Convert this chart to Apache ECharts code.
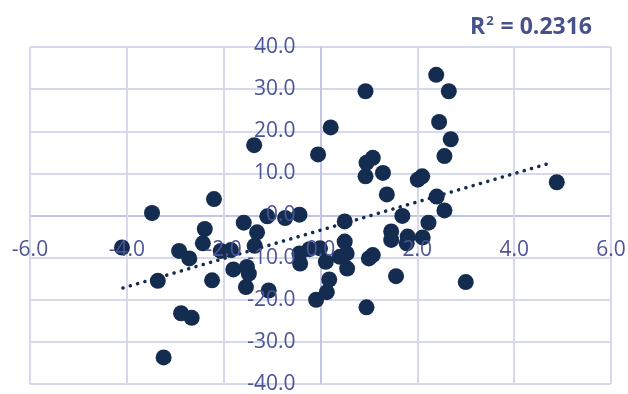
<!DOCTYPE html>
<html>
<head>
<meta charset="utf-8">
<script src="https://cdn.jsdelivr.net/npm/echarts@6/dist/echarts.min.js"></script>
<style>html,body{margin:0;padding:0;background:#fff}#c{width:628px;height:394px}</style>
</head>
<body>
<div id="c"></div>
<script>
// Scatter data (x, y)
const xValues = [-4.10,-3.48,-3.36,-3.24,-2.92,-2.88,-2.66,-2.71,-2.43,-2.39,-2.24,-2.20,-2.06,-1.85,-1.80,-1.585,-1.54,-1.52,-1.48,-1.37,-1.36,-1.31,-1.10,-1.07,-0.73,-0.435,-0.435,-0.42,-0.23,-0.09,-0.05,-0.01,0.11,0.13,0.18,0.21,0.40,0.50,0.50,0.54,0.55,0.93,0.93,0.95,0.95,1.00,1.08,1.08,1.29,1.37,1.46,1.46,1.56,1.69,1.80,1.78,2.01,2.10,2.11,2.23,2.39,2.40,2.45,2.56,2.56,2.65,2.69,3.00,4.88];
const yValues = [-7.6,0.6,-15.5,-33.7,-8.4,-23.2,-24.3,-10.2,-6.6,-3.2,-15.4,3.9,-8.4,-8.2,-12.8,-1.7,-17.0,-12.2,-13.8,16.7,-7.2,-4.0,-0.2,-17.8,-0.6,0.2,-9.0,-11.4,-8.0,-20.0,14.5,-7.8,-11.0,-18.2,-15.2,20.9,-9.8,-1.4,-6.2,-9.0,-12.6,29.5,9.3,12.5,-21.8,-10.2,-9.4,13.7,10.1,5.0,-3.8,-5.8,-14.4,-0.1,-5.0,-6.6,8.5,9.3,-5.2,-1.7,33.4,4.5,22.2,1.2,14.1,29.5,18.1,-15.8,7.9];
// Linear trendline end points
const trendX = [-4.08, 4.73];
const trendY = [-17.2, 12.4];
const xTicks = {min: -6, max: 6, interval: 2};
const yTicks = {min: -40, max: 40, interval: 10};
const rSquared = '0.2316';

const points = xValues.map((x, i) => [x, yValues[i]]);
const trend = trendX.map((x, i) => [x, trendY[i]]);

const W = 628, H = 394;
const grid = {left: 30, right: 17, top: 47, bottom: 10};
const gw = W - grid.left - grid.right, gh = H - grid.top - grid.bottom;
// place the label axes where the other axis is zero (axes cross at 0)
const yAxisOffset = -gw * (0 - xTicks.min) / (xTicks.max - xTicks.min);
const xAxisOffset = -gh * (0 - yTicks.min) / (yTicks.max - yTicks.min);

const labelColor = '#4b5597';
const font = 'Open Sans';
const gridColor = '#d6d8ee';
const axisColor = '#c2c5e5';

function lineColors(t) {
  const arr = [];
  for (let v = t.min; v <= t.max + 1e-9; v += t.interval) arr.push(Math.abs(v) < 1e-9 ? axisColor : gridColor);
  return arr;
}

const chart = echarts.init(document.getElementById('c'), null, {renderer: 'canvas'});
const fmt = v => v.toFixed(1);
chart.setOption({
  animation: false,
  backgroundColor: '#ffffff',
  title: {
    text: '{a|R}{s|2}{a| = ' + rSquared + '}',
    right: 31, top: 4,
    textStyle: {
      rich: {
        a: {fontFamily: font, fontWeight: 'bold', fontSize: 23, color: '#47518c', verticalAlign: 'bottom', lineHeight: 30},
        s: {fontFamily: font, fontWeight: 'bold', fontSize: 13, color: '#47518c', verticalAlign: 'bottom', lineHeight: 30, padding: [0, 1, 11, 1]}
      }
    }
  },
  grid: Object.assign({containLabel: false, outerBoundsMode: 'none'}, grid),
  xAxis: [{
    type: 'value', position: 'bottom', offset: xAxisOffset, min: xTicks.min, max: xTicks.max, interval: xTicks.interval, z: 10,
    axisLine: {show: false, onZero: false},
    axisTick: {show: false},
    splitLine: {show: false},
    axisLabel: {show: true, margin: 24, color: labelColor, fontFamily: font, fontSize: 21, formatter: fmt}
  }, {
    type: 'value', position: 'top', min: xTicks.min, max: xTicks.max, interval: xTicks.interval, z: 0,
    axisLine: {show: false, onZero: false},
    axisTick: {show: false},
    axisLabel: {show: false},
    splitLine: {show: true, lineStyle: {color: lineColors(xTicks), width: 2}}
  }],
  yAxis: [{
    type: 'value', position: 'left', offset: yAxisOffset, min: yTicks.min, max: yTicks.max, interval: yTicks.interval, z: 10,
    axisLine: {show: false, onZero: false},
    axisTick: {show: false},
    splitLine: {show: false},
    axisLabel: {show: true, margin: 25, color: labelColor, fontFamily: font, fontSize: 21, formatter: fmt, padding: [6, 0, 0, 0]}
  }, {
    type: 'value', position: 'right', min: yTicks.min, max: yTicks.max, interval: yTicks.interval, z: 0,
    axisLine: {show: false, onZero: false},
    axisTick: {show: false},
    axisLabel: {show: false},
    splitLine: {show: true, lineStyle: {color: lineColors(yTicks), width: 2}}
  }],
  series: [{
    type: 'scatter', xAxisIndex: 0, yAxisIndex: 0, data: points,
    symbol: 'circle', symbolSize: 16,
    itemStyle: {color: '#142c4f', opacity: 1},
    z: 3
  }, {
    type: 'line', xAxisIndex: 0, yAxisIndex: 0, data: trend,
    symbol: 'none', silent: true,
    lineStyle: {color: '#142c4f', width: 3.5, type: [0.1, 7.5], cap: 'round'},
    z: 4
  }]
});
</script>
</body>
</html>
